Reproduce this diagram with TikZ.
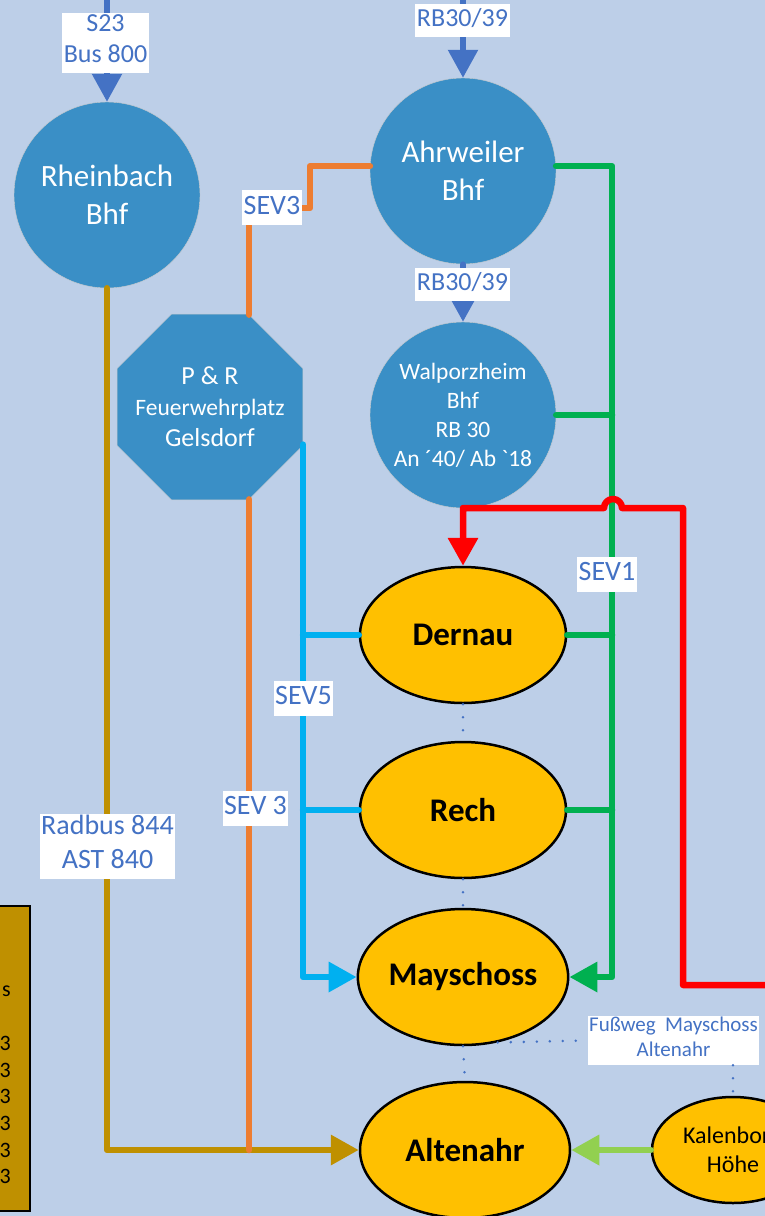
\documentclass[tikz,border=0pt]{standalone}
\usepackage{fontspec}
\setmainfont{Carlito}[Ligatures=TeXOff]
\definecolor{bgBlue}{HTML}{BDCFE8}
\definecolor{stBlue}{HTML}{3A8FC6}
\definecolor{txBlue}{HTML}{4472C4}
\definecolor{sevOrange}{HTML}{ED7D31}
\definecolor{busGold}{HTML}{BF9000}
\definecolor{sevCyan}{HTML}{00B0F0}
\definecolor{sevGreen}{HTML}{00B050}
\definecolor{walkGreen}{HTML}{92D050}
\definecolor{townYellow}{HTML}{FFC000}
\usetikzlibrary{arrows.meta,shapes.geometric}
\newcommand{\fs}[2]{\fontsize{#1}{#2}\selectfont}

\begin{document}
\begin{tikzpicture}[x=1pt, y=-1pt,
    station/.style={circle, fill=stBlue, draw=gray!40, thin, minimum size=186pt, inner sep=0pt, text=white, align=center},
    town/.style={ellipse, fill=townYellow, draw=black, line width=2.5pt, inner sep=0pt, align=center, font=\fs{33}{40}\bfseries},
    lbl/.style={fill=white, text=txBlue, inner xsep=1.5pt, inner ysep=1pt, align=center, execute at begin node=\strut, execute at end node=\strut},
    route/.style={line width=6.5pt, line cap=round, line join=round},
    bigtip/.style={-{Triangle[length=28pt,width=29pt]}},
    walk/.style={txBlue, line width=2.8pt, line cap=round, dash pattern=on 0pt off 13pt}]
  \useasboundingbox (0,0) rectangle (765,1216);
  \clip (0,0) rectangle (765,1216);
  \fill[bgBlue] (0,0) rectangle (765,1216);

  \node[station, font=\fs{31}{38}] (rhb) at (107,195) {Rheinbach\\Bhf};
  \node[station, font=\fs{31}{38}] (ahr) at (463,171) {Ahrweiler\\Bhf};
  \node[station, font=\fs{23.5}{29}] (wal) at (463,415) {Walporzheim\\Bhf\\RB 30\\An ´40/ Ab `18};
  \node[regular polygon, regular polygon sides=8, minimum size=201pt, fill=stBlue, draw=gray!40, thin, inner sep=0pt,
    label={[text=white, align=center, font=\fs{26}{31}]center:P \& R\\{\fs{23.5}{31}Feuerwehrplatz}\\Gelsdorf}] (pr) at (210,407) {};

  \node[town, minimum width=206pt, minimum height=136pt] (der) at (463,635) {Dernau};
  \node[town, minimum width=206pt, minimum height=136pt] (rech) at (463,810) {Rech};
  \node[town, minimum width=206pt, minimum height=136pt] (may) at (463,977) {Mayschoss};
  \node[town, minimum width=210pt, minimum height=136pt] (alt) at (465,1150) {Altenahr};
  \node[town, font=\fs{24}{29}, minimum width=162pt, minimum height=106pt] (kal) at (733,1150) {Kalenborn\\Höhe};

  \draw[fill=busGold, line width=2.5pt] (-20,906) rectangle (30,1211);
  \node[font=\fs{22}{26.7}, align=right, anchor=north east, inner sep=0pt] (legend) at (11,978) {\strut s\\\mbox{}\\3\\3\\3\\3\\3\\3};

  \coordinate (s23in) at (107,0);
  \coordinate (rbin) at (463,0);
  \coordinate (sevjog) at (310,208);
  \coordinate (sevknee) at (612,977);
  \coordinate (redin) at (765,985);
  \coordinate (redtop) at (683,508);

  \draw[route, line width=5.5pt, txBlue, bigtip] (s23in) -- (rhb.north);
  \draw[route, line width=5.5pt, txBlue, bigtip] (rbin) -- (ahr.north);
  \draw[route, line width=5.5pt, txBlue, bigtip] (ahr.south) -- (wal.north);

  \draw[route, busGold, bigtip] (rhb.south) |- (alt.west);
  \draw[route, sevOrange] (ahr.177) -| (sevjog) -| (pr.67);
  \draw[route, sevOrange] (pr.-67) -- (pr.-67 |- alt.west);

  \draw[route, sevCyan, bigtip] (pr.-22) |- (may.west);
  \draw[route, sevCyan] (pr.-22 |- der.west) -- (der.west);
  \draw[route, sevCyan] (pr.-22 |- rech.west) -- (rech.west);

  \draw[route, sevGreen, bigtip] (ahr.3) -| (sevknee) -- (may.east);
  \draw[route, sevGreen] (wal.east) -- (wal.east -| sevknee);
  \draw[route, sevGreen] (der.east) -- (der.east -| sevknee);
  \draw[route, sevGreen] (rech.east) -- (rech.east -| sevknee);

  \draw[route, red, bigtip] (redin) -| (redtop) -- ++(-61,0) arc[start angle=0, end angle=-180, radius=9] -| (der.north);
  \draw[route, walkGreen, bigtip] (kal.west) -- (alt.east);

  \node[lbl, font=\fs{26}{31}] (s23) at (105.5,43) {S23\\Bus 800};
  \node[lbl, font=\fs{26}{31}] (rbtop) at (462.5,20.5) {RB30/39};
  \node[lbl, font=\fs{26}{31}] (rbmid) at (462.5,284) {RB30/39};
  \node[lbl, font=\fs{28}{33}] (sev3a) at (272,207.5) {SEV3};
  \node[lbl, font=\fs{28}{33}] (sev1) at (607,574) {SEV1};
  \node[lbl, font=\fs{28}{33}] (sev5) at (303.5,698) {SEV5};
  \node[lbl, font=\fs{28}{33}] (sev3b) at (255.5,808) {SEV 3};
  \node[lbl, font=\fs{28}{34}] (radbus) at (107.5,846.5) {Radbus 844\\AST 840};
  \node[lbl, font=\fs{21}{25}] (fuss) at (673.5,1040.5) {Fußweg\ \ Mayschoss\\Altenahr};

  \draw[walk] (der.south) -- (rech.north);
  \draw[walk] (rech.south) -- (may.north);
  \draw[walk] (may.south) -- (alt.north);
  \draw[walk] (may.-62) -- (fuss.west);
  \draw[walk] (kal.north |- fuss.south) -- (kal.north);
\end{tikzpicture}
\end{document}
